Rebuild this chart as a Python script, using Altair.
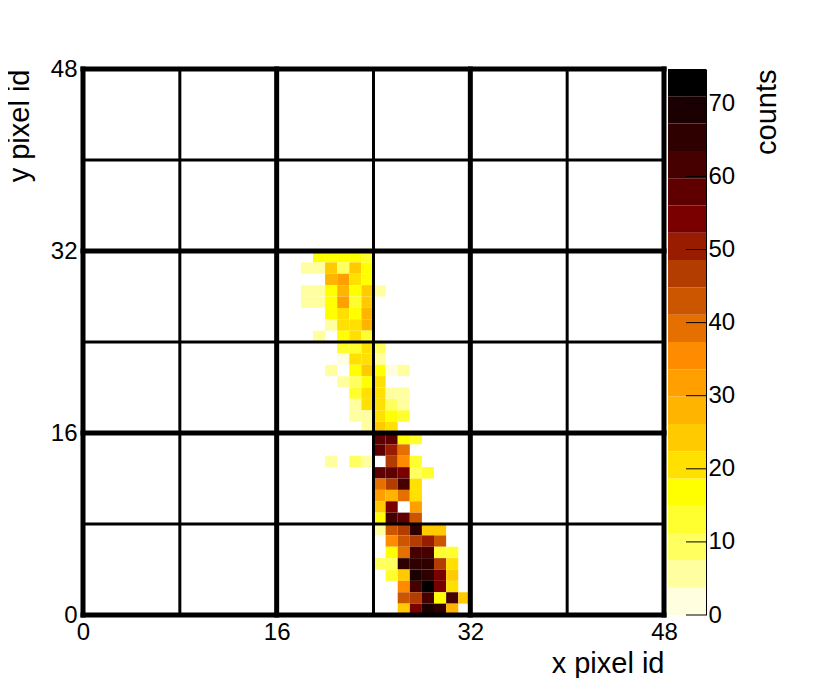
import altair as alt
import pandas as pd

FONT = "Liberation Sans"
N_LEVELS = 20
Z_MAX = 74.7
LEVEL_W = Z_MAX / N_LEVELS

palette = ["#ffffe0", "#ffffa0", "#ffff60", "#ffff30", "#ffff00", "#ffe000", "#ffcb00",
           "#ffb400", "#ffa000", "#ff8c00", "#e57000", "#cc5500", "#b33c00", "#991c00",
           "#7a0000", "#5f0000", "#460000", "#2f0000", "#1a0000", "#000000"]

# row (y pixel id): (first x pixel id, palette level of each cell; None = empty)
rows = {
    31: (19, [4, 4, 4, 4, 3]),
    30: (18, [1, 1, 6, 2, 6, 4]),
    29: (20, [7, 8, 5, 4]),
    28: (18, [1, 1, 4, 7, 4, 6, 1]),
    27: (18, [1, 1, 4, 8, 3, 6]),
    26: (20, [4, 5, 4, 7]),
    25: (20, [1, 5, 5, 7]),
    24: (19, [1, None, 4, 5, 3]),
    23: (21, [3, 3, 5, 2]),
    22: (21, [0, 5, 5, 1]),
    21: (20, [1, None, 4, 6, 4, 0, 1]),
    20: (21, [1, 2, 4, 5]),
    19: (22, [3, 5, 5, 1, 1]),
    18: (22, [1, 5, 5, 2, 1]),
    17: (22, [1, 1, 5, 4, 3]),
    16: (23, [1, 6, 5]),
    15: (24, [15, 15, 4, 3]),
    14: (24, [15, 13, 10]),
    13: (20, [1, None, 2, 1, None, 12, 9, 3]),
    12: (24, [15, 15, 14, 2, 3]),
    11: (24, [10, 12, 16, 5]),
    10: (24, [8, 7, 10, 5]),
    9: (24, [6, 14, None, 8]),
    8: (24, [4, 16, 15, 11]),
    7: (24, [1, 11, 12, 17, 6, 6]),
    6: (25, [9, 11, 12, 13, 11]),
    5: (25, [4, 10, 16, 16, 3, 3]),
    4: (24, [2, 2, 17, 17, 17, 12, 5]),
    3: (25, [3, 6, 18, 17, 14, 6]),
    2: (26, [9, 16, 19, 14, 5]),
    1: (26, [11, 12, 16, 4, 16, 6]),
    0: (26, [6, 14, 18, 17, 7]),
}

major_lines = [0, 16, 32, 48]
minor_lines = [8, 24, 40]
pixel_ticks = [0, 16, 32, 48]
count_ticks = [0, 10, 20, 30, 40, 50, 60, 70]

cells = []
for j, (start, levels) in rows.items():
    for k, lev in enumerate(levels):
        if lev is not None:
            cells.append({"i": start + k, "i2": start + k + 1, "j": j, "j2": j + 1,
                          "counts": (lev + 0.5) * LEVEL_W})
cells = pd.DataFrame(cells)

edges = [k * LEVEL_W for k in range(N_LEVELS + 1)]
bar = pd.DataFrame({"lo": edges[:-1], "hi": edges[1:],
                    "mid": [(a + b) / 2 for a, b in zip(edges[:-1], edges[1:])]})

color_scale = alt.Scale(type="threshold", domain=edges[1:-1], range=palette)
xs = alt.Scale(domain=[0, 48], nice=False, zero=False)
ys = alt.Scale(domain=[0, 48], nice=False, zero=False)

x_axis = alt.Axis(values=pixel_ticks, format="d", grid=False, ticks=False, domain=False,
                  labelFont=FONT, labelFontSize=24, labelColor="black", labelPadding=5,
                  labelFlush=False, labelOverlap=False,
                  title="x pixel id", titleFont=FONT, titleFontSize=29, titleFontWeight="normal",
                  titleColor="black", titleX=581, titleY=57, titleAlign="right",
                  titleBaseline="alphabetic")
y_axis = alt.Axis(values=pixel_ticks, format="d", grid=False, ticks=False, domain=False,
                  labelFont=FONT, labelFontSize=24, labelColor="black", labelPadding=6,
                  labelFlush=False, labelOverlap=False,
                  title="y pixel id", titleFont=FONT, titleFontSize=29, titleFontWeight="normal",
                  titleColor="black", titleX=-55, titleY=0, titleAlign="right", titleAngle=270,
                  titleBaseline="alphabetic")

heat = alt.Chart(cells).mark_rect(strokeWidth=0).encode(
    x=alt.X("i:Q", scale=xs, axis=x_axis),
    x2="i2:Q",
    y=alt.Y("j:Q", scale=ys, axis=y_axis),
    y2="j2:Q",
    color=alt.Color("counts:Q", scale=color_scale, legend=None),
)

def rules(vals, width):
    df = pd.DataFrame({"p": vals})
    v = alt.Chart(df).mark_rule(size=width, color="black", strokeCap="square").encode(
        x=alt.X("p:Q", scale=xs, axis=x_axis))
    h = alt.Chart(df).mark_rule(size=width, color="black", strokeCap="square").encode(
        y=alt.Y("p:Q", scale=ys, axis=y_axis))
    return v + h

main = alt.layer(heat, rules(minor_lines, 3), rules(major_lines, 5)).properties(width=581, height=546)

zs = alt.Scale(domain=[0, Z_MAX], nice=False, zero=False)
bar_axis = alt.Axis(values=count_ticks, format="d", grid=False, ticks=False, domain=True,
                    domainColor="black", domainWidth=1, orient="right",
                    labelFont=FONT, labelFontSize=24, labelColor="black", labelPadding=2,
                    labelFlush=False, labelOverlap=False,
                    title="counts", titleFont=FONT, titleFontSize=29, titleFontWeight="normal",
                    titleColor="black", titleX=69, titleY=0, titleAlign="right", titleAngle=270,
                    titleBaseline="alphabetic")
bar_rect = alt.Chart(bar).mark_rect(strokeWidth=0).encode(
    x=alt.value(0), x2=alt.value(38),
    y=alt.Y("lo:Q", scale=zs, axis=bar_axis),
    y2="hi:Q",
    color=alt.Color("mid:Q", scale=color_scale, legend=None),
)
bar_ticks = alt.Chart(pd.DataFrame({"t": count_ticks})).mark_rule(color="black", size=1).encode(
    x=alt.value(18), x2=alt.value(38),
    y=alt.Y("t:Q", scale=zs, axis=bar_axis),
)
colorbar = alt.layer(bar_rect, bar_ticks).properties(width=38, height=546)

chart = alt.hconcat(main, colorbar, spacing=4, bounds="flush").properties(
    padding={"left": -3, "top": 49, "right": 0, "bottom": 0},
    background="white",
).configure_view(strokeWidth=0)

chart.save("out.html", embed_options={"renderer": "svg", "actions": False})
